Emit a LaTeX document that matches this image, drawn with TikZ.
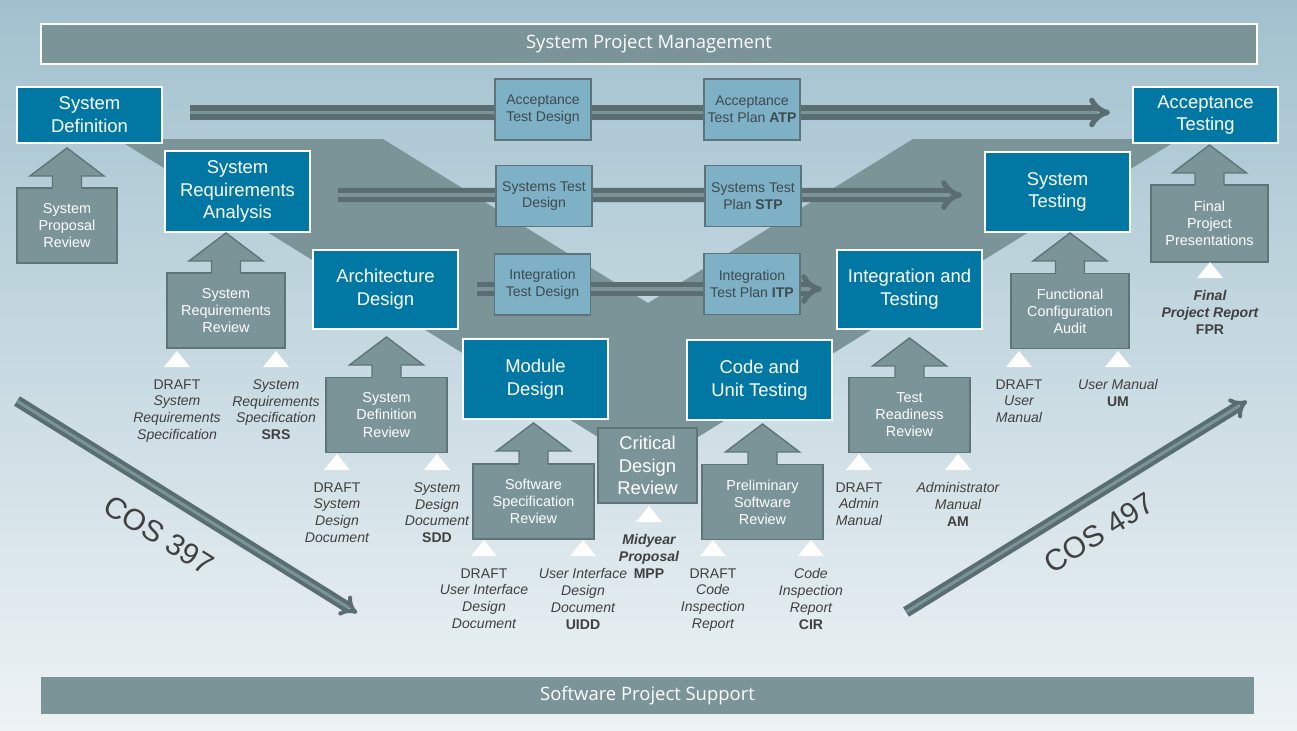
\documentclass[tikz,border=0pt]{standalone}
\usepackage{fontspec}
\setmainfont{Liberation Sans}
\newfontfamily\barfont{Open Sans}
\usetikzlibrary{calc,arrows.meta}

\definecolor{bgtop}{HTML}{A1C1CE}
\definecolor{bgbot}{HTML}{EEF3F5}
\definecolor{vgrey}{HTML}{7B9498}
\definecolor{edgegrey}{HTML}{5E7478}
\definecolor{phaseblue}{HTML}{0078A3}
\definecolor{testblue}{HTML}{7EB1C5}
\definecolor{pipedark}{HTML}{5A6E72}
\definecolor{labelgrey}{HTML}{404040}
\definecolor{testtext}{HTML}{3D4A4F}

\begin{document}
\begin{tikzpicture}[x=0.02cm, y=-0.02cm,
  phase/.style={draw=white, line width=1.1pt, fill=phaseblue, text=white, align=center,
    minimum width=2.9cm, inner sep=0pt, font=\fontsize{10.5}{13}\selectfont},
  review/.style={draw=edgegrey, line width=0.8pt, fill=vgrey, text=white, align=center,
    minimum height=1.5cm, inner sep=0pt, font=\fontsize{8.2}{9.7}\selectfont},
  testbox/.style={draw=edgegrey, line width=0.9pt, fill=testblue, text=testtext, align=center,
    minimum width=1.92cm, minimum height=1.22cm, inner sep=0pt, font=\fontsize{8}{9.6}\selectfont},
  doc/.style={text=labelgrey, align=center, inner sep=0pt, anchor=north, font=\fontsize{8}{9.6}\selectfont\itshape},
  bar/.style={fill=vgrey, text=white, inner sep=0pt, font=\barfont\fontsize{10.5}{12}\selectfont},
  pipe/.style={draw=pipedark, double=vgrey, line width=3pt, double distance=2.2pt, -{Implies}},
  slide/.style={draw=pipedark, double=vgrey, line width=2.3pt, double distance=1.7pt, -{Implies}},
  cos/.style={text=labelgrey, inner sep=0pt, font=\fontsize{17}{20}\selectfont}]

% backdrop and the V
\shade[top color=bgtop, bottom color=bgbot] (0,0) rectangle (1297,730);
\useasboundingbox (0,0) rectangle (1297,730);
\fill[vgrey] (117,139) -- (383,139) -- (648,303) -- (913,139) -- (1179,139) -- (648,468) -- cycle;

% bars
\node[bar, draw=white, line width=0.8pt, minimum width=24.32cm, minimum height=0.8cm] (spm) at (649,44) {System Project Management};
\node[bar, minimum width=24.26cm, minimum height=0.74cm] (sps) at (647.5,695.5) {Software Project Support};

% phases
\node[phase, minimum height=1.12cm] (sd) at (89.5,115) {System\\Definition};
\node[phase, minimum height=1.62cm] (sra) at (237.5,191.5) {System\\Requirements\\Analysis};
\node[phase, minimum height=1.58cm] (ad) at (385.5,289.5) {Architecture\\Design};
\node[phase, minimum height=1.6cm] (md) at (535.5,379) {Module\\Design};
\node[phase, minimum height=1.6cm] (cut) at (759.5,380) {Code and\\Unit Testing};
\node[phase, minimum height=1.58cm] (it) at (909.5,289.5) {Integration and\\Testing};
\node[phase, minimum height=1.6cm] (st) at (1057.5,192) {System\\Testing};
\node[phase, minimum height=1.12cm] (acct) at (1205.5,115) {Acceptance\\Testing};

% test plans across the V
\draw[pipe] ($(sd.east)+(27,-2.5)$) -- ($(acct.west)+(-22,-2.5)$);
\draw[pipe] ($(sra.east)+(27,3.5)$) -- ($(st.west)+(-22,3)$);
\draw[pipe] ($(ad.east)+(18,-0.5)$) -- ($(it.west)+(-14,-0.5)$);

\node[testbox] (atd) at (543,109.5) {Acceptance\\Test Design};
\node[testbox] (atp) at (752,109.5) {Acceptance\\Test Plan \textbf{ATP}};
\node[testbox] (std) at (544,196) {Systems Test\\Design};
\node[testbox] (stp) at (753,196) {Systems Test\\Plan \textbf{STP}};
\node[testbox] (itd) at (542.5,284.5) {Integration\\Test Design};
\node[testbox] (itp) at (752,284) {Integration\\Test Plan \textbf{ITP}};

% reviews
\node[review, minimum width=2cm] (spr) at (67,225.5) {System\\Proposal\\Review};
\node[review, minimum width=2.36cm] (srr) at (226,310.5) {System\\Requirements\\Review};
\node[review, minimum width=2.42cm] (sdr) at (386.5,415) {System\\Definition\\Review};
\node[review, minimum width=2.42cm] (ssr) at (533.5,501.5) {Software\\Specification\\Review};
\node[review, minimum width=2.42cm] (psr) at (762.5,502) {Preliminary\\Software\\Review};
\node[review, minimum width=2.42cm] (trr) at (909.5,415) {Test\\Readiness\\Review};
\node[review, minimum width=2.36cm] (fca) at (1070,311) {Functional\\Configuration\\Audit};
\node[review, minimum width=2.34cm, minimum height=1.54cm] (fpp) at (1209.5,223.5) {Final\\Project\\Presentations};
\node[review, line width=1.6pt, minimum width=1.98cm, font=\fontsize{10.5}{13}\selectfont] (cdr) at (647.5,465.5) {Critical\\Design\\Review};

\foreach \r/\t/\g in {spr/sd/4, srr/sra/0, sdr/ad/7, ssr/md/3, psr/cut/3, trr/it/8, fca/st/0, fpp/acct/1} {
  \coordinate (tip) at ($(\r.north |- \t.south)+(0,\g)$);
  \fill[vgrey] ($(\r.north)+(-14.5,2)$) -- ($(tip)+(-14.5,28)$) -- ($(tip)+(-37,28)$) -- (tip)
    -- ($(tip)+(37,28)$) -- ($(tip)+(14.5,28)$) -- ($(\r.north)+(14.5,2)$) -- cycle;
  \draw[edgegrey, line width=0.8pt] ($(\r.north)+(-14.5,0.7)$) -- ($(tip)+(-14.5,28)$) -- ($(tip)+(-37,28)$) -- (tip)
    -- ($(tip)+(37,28)$) -- ($(tip)+(14.5,28)$) -- ($(\r.north)+(14.5,0.7)$);
}

% documents
\node[doc] (d1) at (177,379) {\textup{DRAFT}\\System\\Requirements\\Specification};
\node[doc] (d2) at (276,379) {System\\Requirements\\Specification\\\textbf{\textup{SRS}}};
\node[doc] (d3) at (337,482) {\textup{DRAFT}\\System\\Design\\Document};
\node[doc] (d4) at (437,482) {System\\Design\\Document\\\textbf{\textup{SDD}}};
\node[doc] (d5) at (484,568) {\textup{DRAFT}\\User Interface\\Design\\Document};
\node[doc] (d6) at (583,568) {User Interface\\Design\\Document\\\textbf{\textup{UIDD}}};
\node[doc] (d7) at (649,534) {\textbf{Midyear}\\\textbf{Proposal}\\\textbf{\textup{MPP}}};
\node[doc] (d8) at (713,568) {\textup{DRAFT}\\Code\\Inspection\\Report};
\node[doc] (d9) at (811,568) {Code\\Inspection\\Report\\\textbf{\textup{CIR}}};
\node[doc] (d10) at (859,482) {\textup{DRAFT}\\Admin\\Manual};
\node[doc] (d11) at (958,482) {Administrator\\Manual\\\textbf{\textup{AM}}};
\node[doc] (d12) at (1019,379) {\textup{DRAFT}\\User\\Manual};
\node[doc] (d13) at (1118,379) {User Manual\\\textbf{\textup{UM}}};
\node[doc] (d14) at (1210,290) {\textbf{Final}\\\textbf{Project Report}\\\textbf{\textup{FPR}}};

\foreach \n in {1,...,14}
  \fill[white] ($(d\n.north)+(-13,-12)$) -- ($(d\n.north)+(0,-28)$) -- ($(d\n.north)+(13,-12)$) -- cycle;

% courses
\coordinate (c3a) at (17,401);
\coordinate (c3b) at (357,613);
\draw[slide] (c3a) -- (c3b);
\node[cos, rotate=-32] (cos3) at (159,535) {COS 397};
\coordinate (c4a) at (906,612);
\coordinate (c4b) at (1247,401);
\draw[slide] (c4a) -- (c4b);
\node[cos, rotate=32] (cos4) at (1099,533) {COS 497};
\end{tikzpicture}
\end{document}
